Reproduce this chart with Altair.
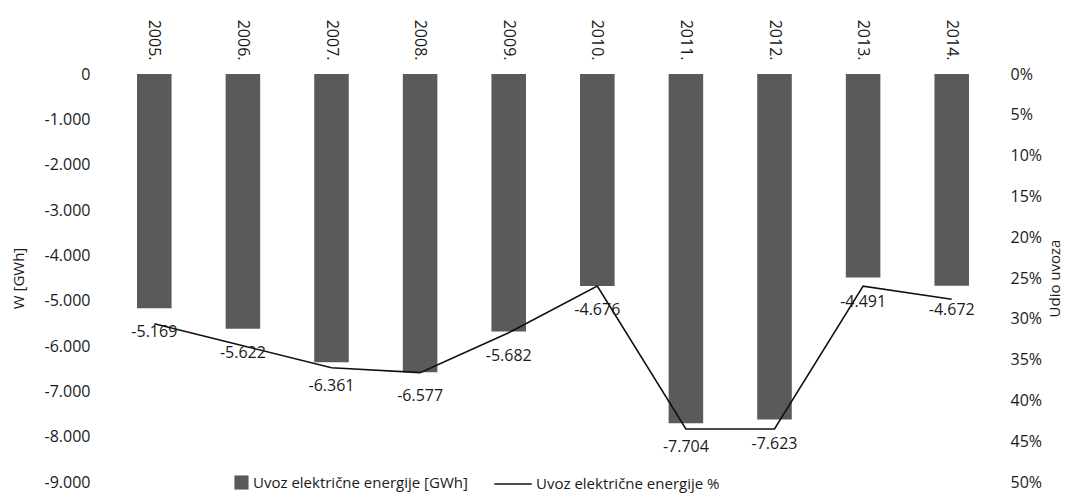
import altair as alt
import pandas as pd

years = ["2005.", "2006.", "2007.", "2008.", "2009.", "2010.", "2011.", "2012.", "2013.", "2014."]
import_gwh = [-5169, -5622, -6361, -6577, -5682, -4676, -7704, -7623, -4491, -4672]
import_share = [0.306, 0.333, 0.360, 0.366, 0.317, 0.260, 0.435, 0.435, 0.260, 0.276]
left_ticks = [0, -1000, -2000, -3000, -4000, -5000, -6000, -7000, -8000, -9000]
right_ticks = [0, 0.05, 0.10, 0.15, 0.20, 0.25, 0.30, 0.35, 0.40, 0.45, 0.50]

bar_name = "Uvoz električne energije [GWh]"
line_name = "Uvoz električne energije %"

df = pd.DataFrame({
    "year": years,
    "gwh": import_gwh,
    "share": import_share,
    "bar_series": [bar_name] * len(years),
    "line_series": [line_name] * len(years),
})

FONT = "Open Sans"
TXT = "#1a1a1a"
fmt_expr = "replace(replace(format(datum.value, ','), ',', '.'), '\u2212', '-')"

x_axis = alt.Axis(orient="top", labelAngle=90, labelFontSize=16, labelFont=FONT,
                  labelColor=TXT, labelPadding=14, domain=False, ticks=False, title=None)
x_scale = alt.Scale(paddingInner=0.61, paddingOuter=0.305)
x_enc = alt.X("year:N", sort=years, scale=x_scale, axis=x_axis)

y_scale = alt.Scale(domain=[-9000, 0], nice=False, zero=False)

base = alt.Chart(df)

bars = base.mark_bar().encode(
    x=x_enc,
    y=alt.Y("gwh:Q", scale=y_scale,
            axis=alt.Axis(orient="left", values=left_ticks, labelExpr=fmt_expr,
                          labelFontSize=16, labelFont=FONT, labelColor=TXT,
                          labelPadding=20, domain=False, ticks=False, grid=False,
                          title="W [GWh]", titleFont=FONT, titleFontSize=15,
                          titleFontWeight="normal", titleColor=TXT, titlePadding=18)),
    color=alt.Color("bar_series:N", scale=alt.Scale(domain=[bar_name], range=["#5a5a5a"]),
                    legend=alt.Legend(orient="none", legendX=124, legendY=401, title=None,
                                      labelFont=FONT, labelFontSize=15, labelColor=TXT,
                                      labelLimit=500,
                                      symbolType="square", symbolSize=200,
                                      symbolStrokeWidth=0, labelOffset=4)),
)

line = base.mark_line(strokeWidth=1.6).encode(
    x=x_enc,
    y=alt.Y("share:Q", scale=alt.Scale(domain=[0, 0.5], reverse=True, nice=False, zero=False),
            axis=alt.Axis(orient="right", values=right_ticks, format=".0%",
                          labelFontSize=16, labelFont=FONT, labelColor=TXT,
                          labelPadding=14, domain=False, ticks=False, grid=False,
                          title="Udio uvoza", titleFont=FONT, titleFontSize=15,
                          titleFontWeight="normal", titleColor=TXT, titleAngle=-90,
                          titleBaseline="top", titlePadding=6)),
    stroke=alt.Stroke("line_series:N", scale=alt.Scale(domain=[line_name], range=["#111111"]),
                      legend=alt.Legend(orient="none", legendX=383, legendY=390, title=None,
                                        labelFont=FONT, labelFontSize=15, labelColor=TXT,
                                        labelLimit=500,
                                        symbolType="stroke", symbolSize=1400,
                                        symbolStrokeWidth=1.6, labelOffset=3)),
)

labels = base.mark_text(dy=24, font=FONT, fontSize=16, color=TXT, baseline="middle").transform_calculate(
    lab="replace(replace(format(datum.gwh, ','), ',', '.'), '\u2212', '-')"
).encode(
    x=x_enc,
    y=alt.Y("gwh:Q", scale=y_scale, axis=None),
    text="lab:N",
)

chart = alt.layer(bars, line, labels).resolve_scale(
    y="independent", color="independent", stroke="independent"
).properties(
    width=886, height=408,
    autosize=alt.AutoSizeParams(type="none"),
    padding={"left": 102, "top": 66, "right": 72, "bottom": 11},
).configure_view(stroke=None)

chart.save("out.html", embed_options={"renderer": "svg", "actions": False})
